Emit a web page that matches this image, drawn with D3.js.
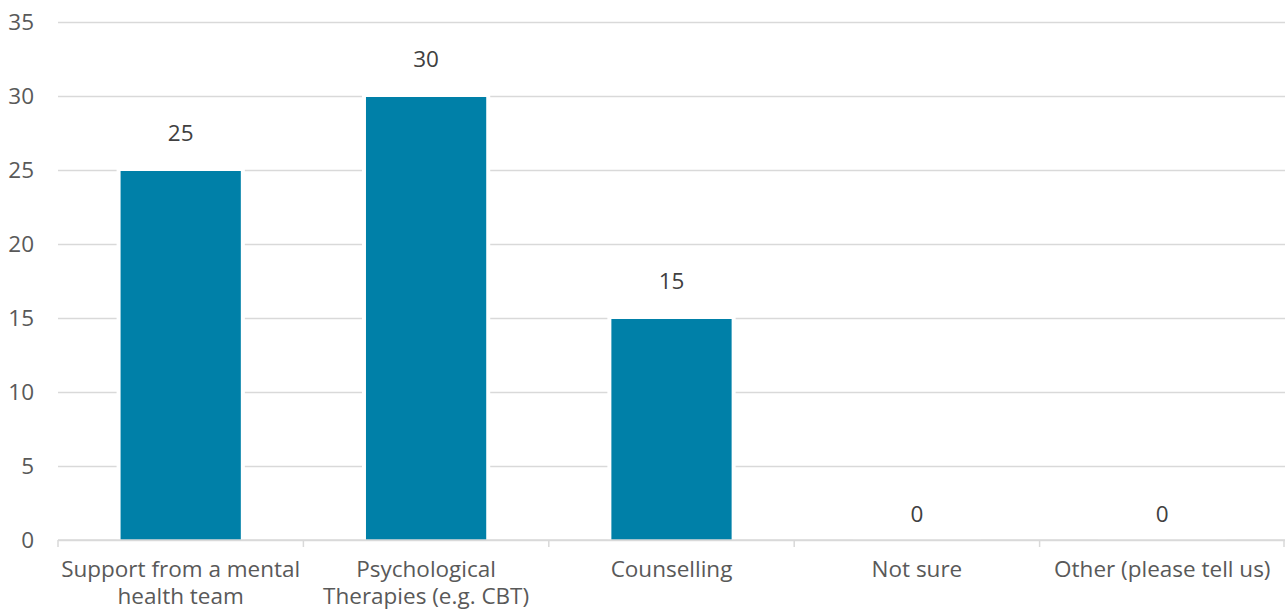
<!DOCTYPE html>
<html>
<head>
<meta charset="utf-8">
<script src="https://cdn.jsdelivr.net/npm/d3@7"></script>
<style>
  body { margin: 0; background: #fff; }
  text { font-family: "Open Sans", "Noto Sans", sans-serif; }
</style>
</head>
<body>
<svg id="chart" width="1288" height="610"></svg>
<script>
const categories = [
  ['Support from a mental', 'health team'],
  ['Psychological', 'Therapies (e.g. CBT)'],
  ['Counselling'],
  ['Not sure'],
  ['Other (please tell us)']
];
const values = [25, 30, 15, 0, 0];
const yTicks = [0, 5, 10, 15, 20, 25, 30, 35];

const width = 1288;
const height = 610;
const margin = { top: 22, right: 3, bottom: 70, left: 58 };
const fontSize = 22.5;

const svg = d3.select('#chart');

/**
 * SCALES
 */
const xScale = d3
  .scaleBand()
  .domain(d3.range(values.length))
  .range([margin.left, width - margin.right])
  .paddingInner(0.51)
  .paddingOuter(0.255);

const yScale = d3
  .scaleLinear()
  .domain([0, 35])
  .range([height - margin.bottom, margin.top]);

/**
 * GRIDLINES + Y LABELS
 */
const gY = svg
  .append('g')
  .attr('transform', `translate(${margin.left},0)`)
  .call(
    d3.axisLeft(yScale)
      .tickValues(yTicks)
      .tickSize(-(width - margin.left - margin.right))
      .tickPadding(24)
  );
gY.select('.domain').remove();
gY.selectAll('.tick line').attr('stroke', '#d9d9d9').attr('stroke-width', 1.5);
gY.selectAll('.tick text')
  .attr('fill', '#595959')
  .attr('font-family', null)
  .attr('font-size', fontSize);

/**
 * BARS (white halo cuts the gridlines, like the original)
 */
const bars = svg.append('g');
bars.selectAll('rect.halo')
  .data(values)
  .join('rect')
  .attr('class', 'halo')
  .attr('x', (d, i) => xScale(i) - 4)
  .attr('y', (d) => yScale(d) - 1)
  .attr('width', xScale.bandwidth() + 8)
  .attr('height', (d) => yScale(0) - yScale(d) + 1)
  .attr('fill', '#fff');

bars.selectAll('rect.bar')
  .data(values)
  .join('rect')
  .attr('class', 'bar')
  .attr('x', (d, i) => xScale(i))
  .attr('y', (d) => yScale(d) + 1)
  .attr('width', xScale.bandwidth())
  .attr('height', (d) => Math.max(0, yScale(0) - yScale(d) - 1))
  .attr('fill', '#0080a8');

/**
 * X AXIS
 */
const step = xScale.step();
const gX = svg
  .append('g')
  .attr('transform', `translate(0,${yScale(0)})`);

gX.append('line')
  .attr('x1', margin.left)
  .attr('x2', width - margin.right)
  .attr('stroke', '#d9d9d9')
  .attr('stroke-width', 1.5);

gX.selectAll('line.tick')
  .data(d3.range(values.length + 1))
  .join('line')
  .attr('class', 'tick')
  .attr('x1', (i) => margin.left + i * step - (i === values.length ? 1 : 0))
  .attr('x2', (i) => margin.left + i * step - (i === values.length ? 1 : 0))
  .attr('y1', 0)
  .attr('y2', 7)
  .attr('stroke', '#d9d9d9')
  .attr('stroke-width', 1.5);

gX.selectAll('text.cat')
  .data(categories)
  .join('text')
  .attr('class', 'cat')
  .attr('x', (d, i) => xScale(i) + xScale.bandwidth() / 2)
  .attr('y', 37)
  .attr('text-anchor', 'middle')
  .attr('fill', '#595959')
  .attr('font-size', fontSize)
  .selectAll('tspan')
  .data((d) => d)
  .join('tspan')
  .attr('x', function () { return d3.select(this.parentNode).attr('x'); })
  .attr('dy', (d, j) => (j === 0 ? 0 : 27))
  .text((d) => d);

/**
 * DATA LABELS
 */
svg.append('g')
  .selectAll('text')
  .data(values)
  .join('text')
  .attr('x', (d, i) => xScale(i) + xScale.bandwidth() / 2)
  .attr('y', (d) => yScale(d) - (d > 0 ? 29 : 18))
  .attr('text-anchor', 'middle')
  .attr('fill', '#404040')
  .attr('font-size', fontSize)
  .text((d) => d);
</script>
</body>
</html>
